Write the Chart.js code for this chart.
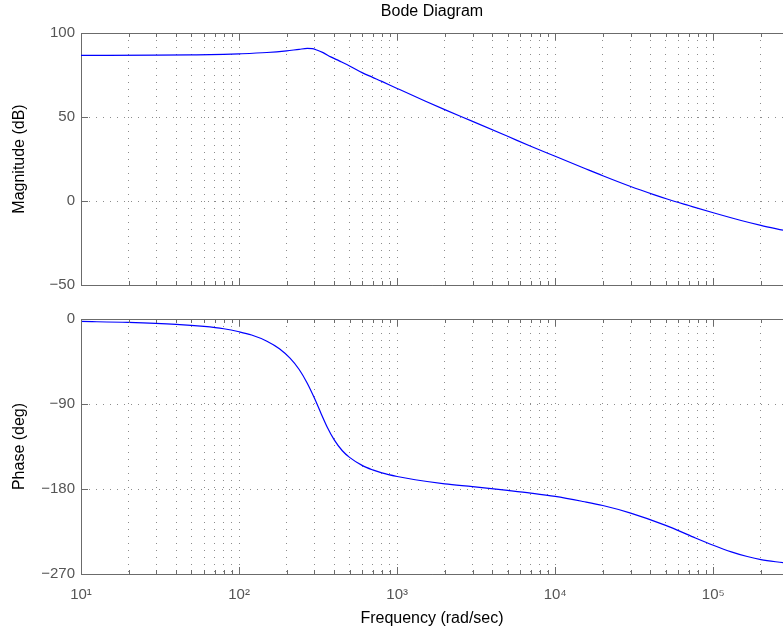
<!DOCTYPE html>
<html>
<head>
<meta charset="utf-8">
<script src="https://cdn.jsdelivr.net/npm/chart.js@4.4.1/dist/chart.umd.min.js"></script>
<style>
  body { margin: 0; background: #fff; }
  #wrap { position: relative; width: 783px; height: 633px; }
  canvas { position: absolute; left: 0; }
  #magChart { top: 0; }
  #phaseChart { top: 300px; }
</style>
</head>
<body>
<div id="wrap">
  <canvas id="magChart" width="783" height="300"></canvas>
  <canvas id="phaseChart" width="783" height="333"></canvas>
</div>
<script>
// magnitude curve (rad/sec -> dB)
const magFreq = [10, 30, 50, 80, 100, 150, 200, 240, 270, 290, 310, 340, 380, 430, 500, 600, 700, 800, 1000,
  1500, 2000, 3000, 5000, 7000, 10000, 15000, 20000, 30000, 42000, 51000, 70000, 100000, 150000, 200000, 276000];
const magDb = [86.7, 86.8, 87.0, 87.3, 87.6, 88.4, 89.4, 90.3, 90.8, 90.7, 89.9, 88.3, 85.8, 83.4, 80.4, 76.4, 73.6, 71.2, 67.0,
  59.5, 54.4, 47.4, 38.5, 32.6, 26.6, 19.8, 15.0, 8.6, 3.8, 1.2, -2.7, -7.0, -11.6, -14.5, -17.4];

// phase curve (rad/sec -> deg)
const phaseFreq = [10, 20, 40, 60, 80, 100, 120, 150, 180, 210, 240, 270, 300, 330, 360, 400, 450, 500, 600, 700, 800, 1000,
  1300, 2000, 3000, 5000, 7000, 10000, 15000, 20000, 30000, 50000, 75000, 100000, 130000, 164000, 200000, 276000];
const phaseDeg = [-2.6, -3.6, -5.6, -7.8, -10.3, -13.5, -17, -23.5, -31.5, -41.5, -53.5, -68, -84, -100, -114, -128, -139.5, -146.5, -155, -159.8, -163, -166.8,
  -170.2, -174.5, -177.5, -181.5, -184.3, -187.8, -193.2, -197.5, -205.5, -218.5, -231, -239.5, -246.5, -251.5, -254.8, -258];

// axis ticks
const magTicks = [-50, 0, 50, 100];
const phaseTicks = [-270, -180, -90, 0];
const decades = [10, 100, 1000, 10000, 100000];
const decadeLabels = ['10¹', '10²', '10³', '10⁴', '10⁵'];
const freqMin = 10;
const freqMax = 276000;

const axisColor = '#6b6b6b';
const gridColor = '#8c8c8c';
const tickFont = { family: 'Liberation Sans, Arial, sans-serif', size: 15 };
const labelFont = { family: 'Liberation Sans, Arial, sans-serif', size: 16 };

// 1..9 x 10^n inside the range
function freqTicks() {
    const out = [];
    for (let p = 1; p <= 5; p++) {
        for (let m = 1; m <= 9; m++) {
            const v = m * Math.pow(10, p);
            if (v >= freqMin && v <= freqMax) out.push({ value: v });
        }
    }
    return out;
}

function minusLabel(v) {
    return v < 0 ? '\u2212' + (-v) : String(v);
}

// matlab style: top frame line and tick marks pointing inside
const innerTicks = {
    id: 'innerTicks',
    afterDraw(chart) {
        const { ctx, chartArea: a, scales: { x, y } } = chart;
        ctx.save();
        ctx.strokeStyle = axisColor;
        ctx.lineWidth = 1;
        ctx.beginPath();
        ctx.moveTo(a.left, a.top + 0.5);
        ctx.lineTo(a.right, a.top + 0.5);
        x.ticks.forEach(t => {
            const px = Math.round(x.getPixelForValue(t.value)) + 0.5;
            const len = decades.includes(t.value) ? 7 : 4;
            ctx.moveTo(px, a.bottom);
            ctx.lineTo(px, a.bottom - len);
            ctx.moveTo(px, a.top);
            ctx.lineTo(px, a.top + len);
        });
        y.ticks.forEach(t => {
            const py = Math.round(y.getPixelForValue(t.value)) + 0.5;
            ctx.moveTo(a.left, py);
            ctx.lineTo(a.left + 7, py);
        });
        ctx.stroke();
        ctx.restore();
    }
};

function xScale(showLabels, height) {
    return {
        type: 'logarithmic',
        min: freqMin,
        max: freqMax,
        afterBuildTicks: s => { s.ticks = freqTicks(); },
        afterFit: s => { s.height = height; },
        grid: { color: gridColor, drawTicks: false, lineWidth: 1 },
        border: { display: true, color: axisColor, width: 1, dash: [1, 6] },
        ticks: {
            display: showLabels,
            autoSkip: false,
            maxRotation: 0,
            padding: 12,
            color: '#555',
            font: tickFont,
            callback: v => {
                const i = decades.indexOf(v);
                return i >= 0 ? decadeLabels[i] : '';
            }
        },
        title: {
            display: showLabels,
            text: 'Frequency (rad/sec)',
            color: '#000',
            font: labelFont,
            padding: { top: 0, bottom: 5 }
        }
    };
}

function yScale(tickValues, label) {
    return {
        type: 'linear',
        min: tickValues[0],
        max: tickValues[tickValues.length - 1],
        afterBuildTicks: s => { s.ticks = tickValues.map(v => ({ value: v })); },
        afterFit: s => { s.width = 81; },
        grid: { color: gridColor, drawTicks: false, lineWidth: 1 },
        border: { display: true, color: axisColor, width: 1, dash: [1, 6] },
        ticks: {
            autoSkip: false,
            padding: 6,
            color: '#555',
            font: tickFont,
            callback: v => minusLabel(v)
        },
        title: {
            display: true,
            text: label,
            color: '#000',
            font: labelFont,
            padding: { top: 10, bottom: 0 }
        }
    };
}

function curve(freq, vals) {
    return {
        data: freq.map((f, i) => ({ x: f, y: vals[i] })),
        borderColor: '#0000ff',
        borderWidth: 1.2,
        pointRadius: 0,
        cubicInterpolationMode: 'monotone',
        fill: false
    };
}

// 상단: magnitude
new Chart(document.getElementById('magChart').getContext('2d'), {
    type: 'line',
    data: { datasets: [curve(magFreq, magDb)] },
    options: {
        responsive: false,
        animation: false,
        layout: { padding: 0 },
        scales: {
            x: xScale(false, 9),
            y: yScale(magTicks, 'Magnitude (dB)')
        },
        plugins: {
            legend: { display: false },
            tooltip: { enabled: false },
            title: {
                display: true,
                text: 'Bode Diagram',
                fullSize: false,
                color: '#000',
                font: { family: 'Liberation Sans, Arial, sans-serif', size: 16, weight: 'normal' },
                padding: { top: 2, bottom: 11.8 }
            }
        }
    },
    plugins: [innerTicks]
});

// 하단: phase
new Chart(document.getElementById('phaseChart').getContext('2d'), {
    type: 'line',
    data: { datasets: [curve(phaseFreq, phaseDeg)] },
    options: {
        responsive: false,
        animation: false,
        layout: { padding: { top: 19, left: 0, right: 0, bottom: 0 } },
        scales: {
            x: xScale(true, 59),
            y: yScale(phaseTicks, 'Phase (deg)')
        },
        plugins: {
            legend: { display: false },
            tooltip: { enabled: false }
        }
    },
    plugins: [innerTicks]
});
</script>
</body>
</html>
